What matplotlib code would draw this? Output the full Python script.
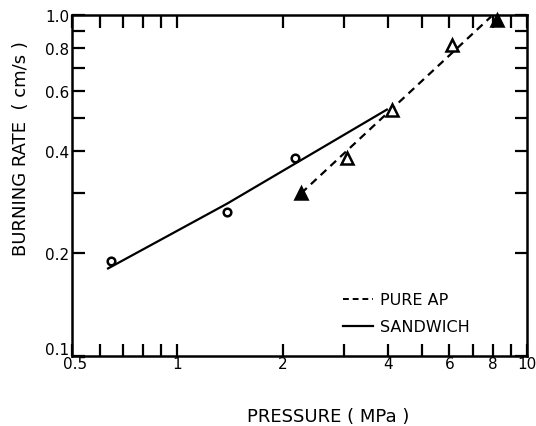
import numpy as np
import matplotlib
matplotlib.use("Agg")
import matplotlib.pyplot as plt
from matplotlib.ticker import FixedLocator, NullFormatter
from matplotlib.transforms import ScaledTranslation

# sandwich data (circles) and fitted line
sand_p = [0.645, 1.39, 2.17]
sand_r = [0.19, 0.265, 0.38]
sand_line_p = [0.63, 1.39, 4.0]
sand_line_r = [0.18, 0.28, 0.53]

# pure AP data (triangles) and fitted line
ap_p = [2.26, 3.05, 4.1, 6.12, 8.2]
ap_r = [0.30, 0.38, 0.527, 0.818, 0.97]
ap_filled = [True, False, False, False, True]
ap_line_p = [2.26, 7.9]
ap_line_r = [0.30, 0.99]

x_major = [0.5, 1, 2, 4, 6, 8, 10]
x_major_lbl = ["0.5", "1", "2", "4", "6", "8", "10"]
x_minor = [0.6, 0.7, 0.8, 0.9, 3, 5, 7, 9]
y_major = [0.1, 0.2, 0.4, 0.6, 0.8, 1.0]
y_major_lbl = ["0.1", "0.2", "0.4", "0.6", "0.8", "1.0"]
y_minor = [0.3, 0.5, 0.7, 0.9]

plt.rcParams["font.family"] = "DejaVu Sans"

fig = plt.figure(figsize=(5.36, 4.27), dpi=100)
ax = fig.add_axes([0.1343, 0.1639, 0.8489, 0.7986])

ax.set_xscale("log")
ax.set_yscale("log")
ax.set_xlim(0.5, 10)
ax.set_ylim(0.1, 1.0)

ax.plot(sand_line_p, sand_line_r, color="black", lw=1.6, solid_capstyle="butt")
ax.plot(ap_line_p, ap_line_r, color="black", lw=1.6, ls=(0, (3.5, 2.5)))

ax.plot(sand_p, sand_r, "o", ms=5.5, mfc="white", mec="black", mew=1.8, ls="none")
for p, r, f in zip(ap_p, ap_r, ap_filled):
    ax.plot(p, r, "^", ms=8, mfc="black" if f else "white", mec="black",
            mew=1.8, clip_on=False)

ax.xaxis.set_major_locator(FixedLocator(x_major))
ax.xaxis.set_minor_locator(FixedLocator(x_minor))
ax.set_xticklabels(x_major_lbl)
ax.xaxis.set_minor_formatter(NullFormatter())
ax.yaxis.set_major_locator(FixedLocator(y_major))
ax.yaxis.set_minor_locator(FixedLocator(y_minor))
ax.set_yticklabels(y_major_lbl)
ax.yaxis.set_minor_formatter(NullFormatter())

ax.tick_params(which="both", direction="in", top=True, right=True,
               length=9, width=1.6, labelsize=11)
ax.tick_params(axis="x", pad=0)
ax.tick_params(axis="y", pad=2)
for s in ax.spines.values():
    s.set_linewidth(1.8)

# lift the 0.1 label off the corner, nudge 0.5 right
lab01 = ax.get_yticklabels()[0]
lab01.set_transform(lab01.get_transform() + ScaledTranslation(0, 8 / 100, fig.dpi_scale_trans))
lab05 = ax.get_xticklabels()[0]
lab05.set_transform(lab05.get_transform() + ScaledTranslation(3 / 100, 0, fig.dpi_scale_trans))

ax.set_xlabel("PRESSURE ( MPa )", fontsize=13, va="center")
ax.xaxis.set_label_coords(0.564, -0.176)
ax.set_ylabel("BURNING RATE  ( cm/s )", fontsize=13, va="center")
ax.yaxis.set_label_coords(-0.112, 0.61)

# legend drawn by hand
ax.plot([0.5 * 10 ** ((343 - 72) / 349.7), 0.5 * 10 ** ((373 - 72) / 349.7)],
        [0.1 * 10 ** ((357 - 300) / 341)] * 2, color="black", lw=1.4, ls=(0, (3, 2)))
ax.plot([0.5 * 10 ** ((343 - 72) / 349.7), 0.5 * 10 ** ((373 - 72) / 349.7)],
        [0.1 * 10 ** ((357 - 327) / 341)] * 2, color="black", lw=1.6)
ax.text(0.5 * 10 ** ((380 - 72) / 349.7), 0.1 * 10 ** ((357 - 300) / 341), "PURE AP",
        fontsize=11.5, va="center")
ax.text(0.5 * 10 ** ((380 - 72) / 349.7), 0.1 * 10 ** ((357 - 327) / 341), "SANDWICH",
        fontsize=11.5, va="center")

fig.savefig("out.png", dpi=100)
